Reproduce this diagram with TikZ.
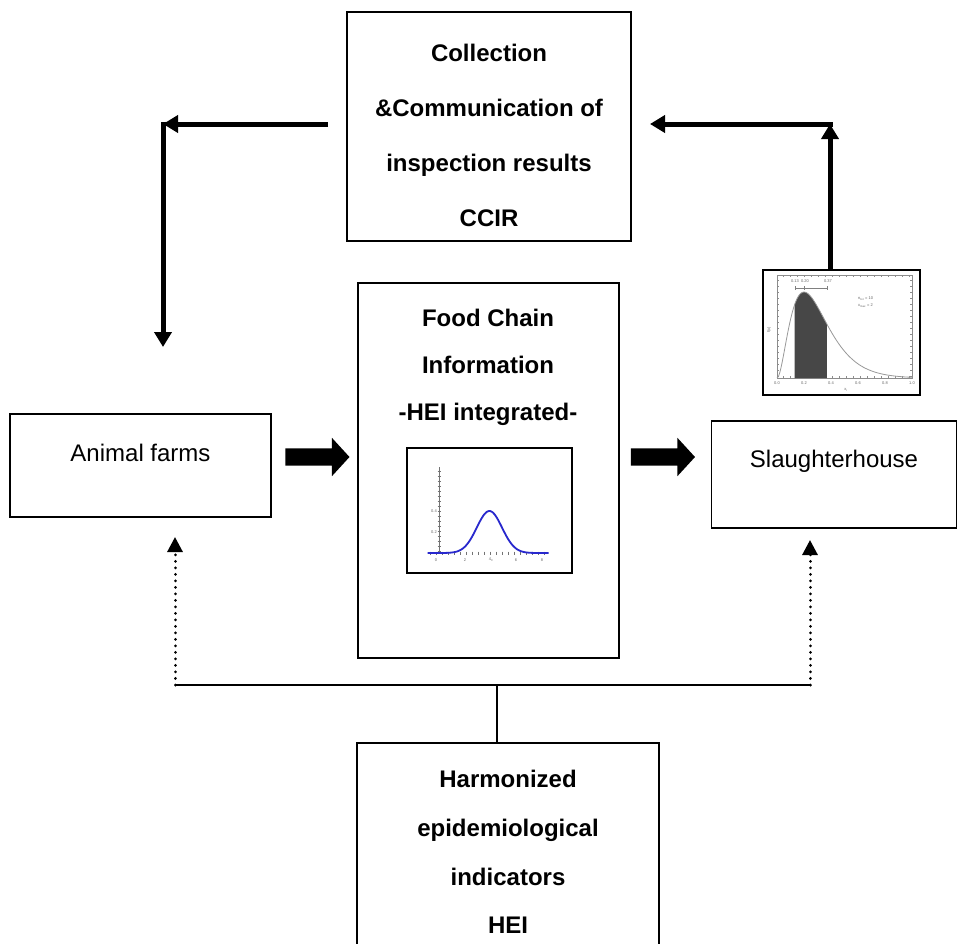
\documentclass[tikz,border=0pt]{standalone}
\usepackage{fontspec}
\setmainfont{Liberation Sans}
\usetikzlibrary{arrows.meta,shapes.arrows}
\definecolor{curveblue}{RGB}{40,40,205}
\begin{document}
\begin{tikzpicture}[x=1pt,y=-1pt,
  box/.style={draw=black, line width=1.6pt, fill=white, inner sep=0pt},
  frame/.style={draw=black, line width=2.6pt, fill=white, inner sep=0pt},
  heading/.style={font=\fontsize{24}{#1}\selectfont\bfseries, align=center, inner sep=0pt},
  plain/.style={font=\fontsize{24}{28}\selectfont, inner sep=0pt},
  tiny/.style={font=\fontsize{4}{5}\selectfont, text=black!60, inner sep=0pt},
  flow/.style={line width=5pt, -{Triangle[length=15pt,width=17pt]}},
  hint/.style={line width=3pt, dash pattern=on 0.01pt off 6.5pt, line cap=round, -{Triangle[length=15pt,width=15pt]}},
  link/.style={line width=2pt},
  bigarrow/.style={single arrow, fill=black, draw=none, minimum height=64pt, minimum width=38pt,
                   single arrow head extend=10.5pt, single arrow tip angle=95,
                   inner xsep=0pt, inner ysep=8.5pt},
]
\useasboundingbox (0,0) rectangle (961,943);

% ---------------- boxes ----------------
\node[box, minimum width=284pt, minimum height=229pt] (ccir) at (489,126.5) {};
\node[heading=55] (ccirtext) at (489,135) {Collection\\\&Communication of\\inspection results\\CCIR};

\node[box, minimum width=261pt, minimum height=375pt] (fci) at (488.5,470.5) {};
\node[heading=47] (fcitext) at (488,367) {Food Chain\\Information\\-HEI integrated-};

\node[box, minimum width=261pt, minimum height=103pt] (farms) at (140.5,465.5) {};
\node[plain] (farmstext) at (140.5,453) {Animal farms};

\node[box, minimum width=245pt, minimum height=107pt] (slaughter) at (834,474.5) {};
\node[plain] (slaughtertext) at (834,461) {Slaughterhouse};

\node[box, minimum width=302pt, minimum height=214pt] (hei) at (508,850) {};
\node[heading=48.7] (heitext) at (508,852) {Harmonized\\epidemiological\\indicators\\HEI};

% ---------------- normal density inside the food chain box ----------------
\node[frame, minimum width=165pt, minimum height=125pt] (normplot) at (489.5,510.5) {};
\draw[black!55, line width=0.6pt] (439,467) -- (439,553);
\foreach \t in {471,476,...,551} \draw[black!55, line width=0.4pt] (437.5,\t) -- (440.5,\t);
\foreach \t in {430,436,...,546} \draw[black!55, line width=0.4pt] (\t,551.5) -- (\t,555);
\draw[curveblue, line width=1.8pt] plot[domain=-0.9:8.7, samples=90, smooth]
  ({439+12.6*\x},{553-42*exp(-0.5*((\x-4)*(\x-4)))});
\node[tiny, anchor=east] (n04) at (437,511) {0.4};
\node[tiny, anchor=east] (n02) at (437,532) {0.2};
\node[tiny] (nx0) at (436,560) {0};
\node[tiny] (nx2) at (465,560) {2};
\node[tiny] (nx4) at (491,560) {4\textsubscript{0}};
\node[tiny] (nx6) at (516,560) {6};
\node[tiny] (nx8) at (542,560) {8};

% ---------------- skewed density beside the slaughterhouse ----------------
\node[frame, minimum width=157pt, minimum height=125pt] (skewplot) at (841.5,332.5) {};
\draw[black!45, line width=0.6pt] (777,275) rectangle (912,378);
\foreach \t in {783,790,...,910} {
  \draw[black!45, line width=0.4pt] (\t,378) -- (\t,376);
  \draw[black!45, line width=0.4pt] (\t,275) -- (\t,277);
}
\foreach \t in {280,286,...,376} {
  \draw[black!45, line width=0.4pt] (777,\t) -- (779,\t);
  \draw[black!45, line width=0.4pt] (912,\t) -- (910,\t);
}
\fill[black!72] (794.55,378) -- plot[domain=0.13:0.37, samples=30, smooth]
  ({777+135*\x},{378-86*(\x/0.2)^2*exp(2-10*\x)}) -- (826.95,378) -- cycle;
\draw[black!40, line width=0.8pt] plot[domain=0:1, samples=90, smooth]
  ({777+135*\x},{378-86*(\x/0.2)^2*exp(2-10*\x)});
\draw[black!50, line width=0.5pt] (795,288) -- (827,288);
\foreach \t in {795,804,827} \draw[black!50, line width=0.5pt] (\t,286) -- (\t,290);
\node[tiny] (xl) at (795,281) {0.13};
\node[tiny] (xm) at (805,281) {0.20};
\node[tiny] (xu) at (828,281) {0.37};
\node[tiny, anchor=west] (ntot) at (858,299) {n\textsubscript{tot} = 10};
\node[tiny, anchor=west] (xmax) at (858,306) {x\textsubscript{max} = 2};
\foreach \u/\l in {0/0.0,0.2/0.2,0.4/0.4,0.6/0.6,0.8/0.8,1/1.0}
  \node[tiny] at ({777+135*\u},383) {\l};
\node[tiny] (xlab) at (846,390) {x\textsubscript{i}};
\node[tiny, rotate=90] (ylab) at (769,330) {f(x)};

% ---------------- block arrows along the chain ----------------
\node[bigarrow] (feed) at (313.5,457) {};
\node[bigarrow] (deliver) at (659,457) {};

% ---------------- feedback of inspection results ----------------
\coordinate (startl) at (328,124);
\coordinate (cornerl) at (163,124);
\coordinate (tipdown) at (163,347);
\draw[flow] (startl) -- (cornerl);
\draw[flow] ([yshift=2.5pt]cornerl) -- (tipdown);

\coordinate (cornerr) at (830,124);
\coordinate (tipleft) at (650,124);
\draw[flow] (skewplot.north -| cornerr) -- (cornerr);
\draw[flow] ([xshift=2.5pt]cornerr) -- (tipleft);

% ---------------- HEI distribution lines ----------------
\coordinate (jl) at (175,685);
\coordinate (jr) at (810,685);
\coordinate (jm) at (497,685);
\coordinate (tipl) at (175,537);
\coordinate (tipr) at (810,540);
\draw[link] (jl) -- (jr);
\draw[link] (jm) -- (jm |- hei.north);
\draw[hint] (jl) -- (tipl);
\draw[hint] (jr) -- (tipr);
\end{tikzpicture}
\end{document}
